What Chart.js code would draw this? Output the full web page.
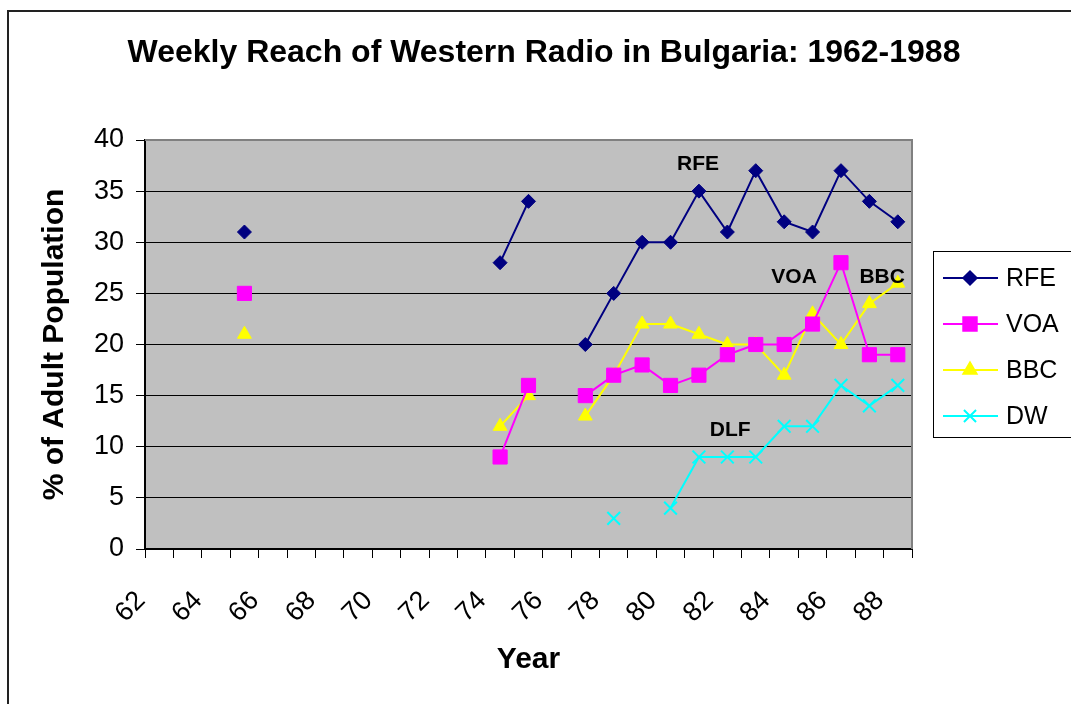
<!DOCTYPE html>
<html>
<head>
<meta charset="utf-8">
<script src="https://cdn.jsdelivr.net/npm/chart.js@4.4.1/dist/chart.umd.min.js"></script>
<style>
  body { margin: 0; background: #fff; }
  canvas { display: block; }
</style>
</head>
<body>
<canvas id="grafico" width="1071" height="704"></canvas>
<script>
// Anos (eixo x) e séries
const anos = ['62','63','64','65','66','67','68','69','70','71','72','73','74','75',
              '76','77','78','79','80','81','82','83','84','85','86','87','88'];

const rfe = [null,null,null,31,null,null,null,null,null,null,null,null,28,34,
             null,20,25,30,30,35,31,37,32,31,37,34,32];
const voa = [null,null,null,25,null,null,null,null,null,null,null,null,9,16,
             null,15,17,18,16,17,19,20,20,22,28,19,19];
const bbc = [null,null,null,21,null,null,null,null,null,null,null,null,12,15,
             null,13,17,22,22,21,20,20,17,23,20,24,26];
const dw  = [null,null,null,null,null,null,null,null,null,null,null,null,null,null,
             null,null,3,null,4,9,9,9,12,12,16,14,16];

const yTicks = [0, 5, 10, 15, 20, 25, 30, 35, 40];

const FONTE = "'Liberation Sans', Arial, sans-serif";

// rótulos dentro da área do gráfico (posição em coordenadas dos dados)
const rotulos = [
  { texto: 'RFE', x: 18.97, y: 37.6 },
  { texto: 'VOA', x: 22.35, y: 26.6 },
  { texto: 'BBC', x: 25.45, y: 26.6 },
  { texto: 'DLF', x: 20.1, y: 11.6 }
];

const series = [
  { label: 'RFE', data: rfe, borderColor: '#000080', backgroundColor: '#000080',
    pointStyle: 'rectRot', pointRadius: 7, pointBorderWidth: 1 },
  { label: 'VOA', data: voa, borderColor: '#FF00FF', backgroundColor: '#FF00FF',
    pointStyle: 'rect', pointRadius: 10, pointBorderWidth: 1 },
  { label: 'BBC', data: bbc, borderColor: '#FFFF00', backgroundColor: '#FFFF00',
    pointStyle: 'triangle', pointRadius: 8, pointBorderWidth: 1 },
  { label: 'DW', data: dw, borderColor: '#00FFFF', backgroundColor: '#00FFFF',
    pointStyle: 'crossRot', pointRadius: 9, pointBorderWidth: 2 }
];

const fundoPlugin = {
  id: 'fundo',
  beforeDraw(chart) {
    const { ctx, chartArea: a } = chart;
    ctx.save();
    ctx.fillStyle = '#fff';
    ctx.fillRect(0, 0, chart.width, chart.height);
    ctx.fillStyle = '#C0C0C0';
    ctx.fillRect(a.left, a.top, a.right - a.left, a.bottom - a.top);
    ctx.restore();
  },
  afterDraw(chart) {
    const { ctx, chartArea: a, scales } = chart;
    ctx.save();
    // borda externa
    ctx.strokeStyle = '#222';
    ctx.lineWidth = 2;
    ctx.strokeRect(8, 11, 1200, 900);
    // borda cinza da área de plotagem (topo e direita)
    ctx.strokeStyle = '#808080';
    ctx.beginPath();
    ctx.moveTo(a.left, a.top);
    ctx.lineTo(a.right, a.top);
    ctx.lineTo(a.right, a.bottom);
    ctx.stroke();

    // título
    ctx.fillStyle = '#000';
    ctx.font = 'bold 32px ' + FONTE;
    ctx.textAlign = 'center';
    ctx.textBaseline = 'middle';
    ctx.fillText('Weekly Reach of Western Radio in Bulgaria: 1962-1988', 544, 53);

    // rótulos das séries
    ctx.font = 'bold 21px ' + FONTE;
    rotulos.forEach(r => {
      ctx.fillText(r.texto, scales.x.getPixelForValue(r.x), scales.y.getPixelForValue(r.y));
    });

    // legenda
    const lx = 933, ly = 251;
    ctx.fillStyle = '#fff';
    ctx.fillRect(lx, ly, 200, 186);
    ctx.strokeStyle = '#000';
    ctx.lineWidth = 1;
    ctx.strokeRect(lx + 0.5, ly + 0.5, 200, 186);
    ctx.font = '25px ' + FONTE;
    ctx.textAlign = 'left';
    chart.data.datasets.forEach((ds, i) => {
      const y = 278 + i * 46;
      ctx.strokeStyle = ds.borderColor;
      ctx.lineWidth = 2;
      ctx.beginPath();
      ctx.moveTo(943, y);
      ctx.lineTo(998, y);
      ctx.stroke();
      Chart.helpers.drawPoint(ctx, {
        pointStyle: ds.pointStyle,
        radius: ds.pointRadius * 0.95,
        borderWidth: ds.pointBorderWidth,
        rotation: 0
      }, 970, y);
      ctx.fillStyle = ds.borderColor;
      ctx.fill();
      ctx.fillStyle = '#000';
      ctx.fillText(ds.label, 1006, y + 1);
    });
    ctx.restore();
  }
};

new Chart(document.getElementById('grafico').getContext('2d'), {
  type: 'line',
  data: {
    labels: anos,
    datasets: series.map(s => Object.assign({
      borderWidth: 2,
      pointBackgroundColor: s.backgroundColor,
      pointBorderColor: s.borderColor,
      tension: 0,
      spanGaps: false
    }, s))
  },
  options: {
    responsive: false,
    animation: false,
    devicePixelRatio: 1,
    layout: { padding: { left: 0, top: 140, right: 159, bottom: 0 } },
    plugins: {
      legend: { display: false },
      title: { display: false },
      tooltip: { enabled: false }
    },
    scales: {
      x: {
        type: 'category',
        offset: true,
        afterFit: s => { s.height = 155; },
        grid: { drawOnChartArea: false, offset: true, color: '#000', tickLength: 9 },
        border: { color: '#000', width: 2 },
        ticks: {
          autoSkip: false,
          minRotation: 45,
          maxRotation: 45,
          padding: 27,
          labelOffset: -18,
          color: '#000',
          font: { family: FONTE, size: 27 },
          callback: (v, i) => (i % 2 === 0 ? anos[i] : '')
        },
        title: {
          display: true,
          text: 'Year',
          color: '#000',
          font: { family: FONTE, size: 30, weight: 'bold' },
          padding: { top: 0, bottom: 26 }
        }
      },
      y: {
        min: 0,
        max: 40,
        afterFit: s => { s.width = 145; },
        afterBuildTicks: s => { s.ticks = yTicks.map(v => ({ value: v })); },
        grid: { color: '#000', lineWidth: 1, tickLength: 9 },
        border: { color: '#000', width: 2 },
        ticks: {
          padding: 12,
          color: '#000',
          font: { family: FONTE, size: 27 }
        },
        title: {
          display: true,
          text: '% of Adult Population',
          color: '#000',
          font: { family: FONTE, size: 30, weight: 'bold' },
          padding: { top: 37, bottom: 0 }
        }
      }
    }
  },
  plugins: [fundoPlugin]
});
</script>
</body>
</html>
